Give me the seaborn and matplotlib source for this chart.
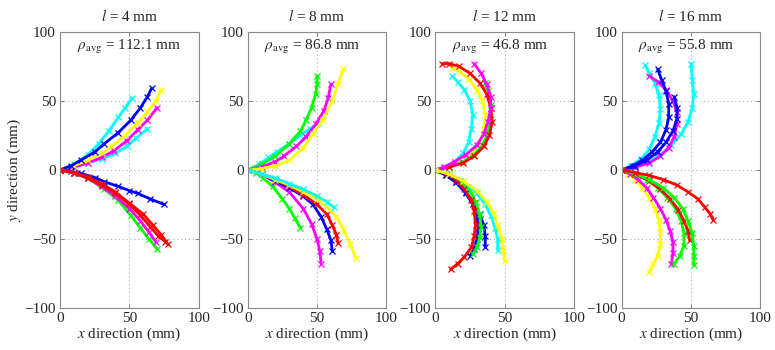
import matplotlib
matplotlib.use("Agg")
import matplotlib.pyplot as plt
import seaborn as sns
import pandas as pd

# Trajectories for each spacing l; each entry is (colour, x points, y points)
SPACINGS = ["4", "8", "12", "16"]
RHO_AVG = ["112.1", "86.8", "46.8", "55.8"]

PANEL_4MM = [
    ("c", [0, 10, 20, 28, 35, 42, 47, 52], [0, 4, 11, 19, 28, 38, 45, 52]),
    ("c", [0, 10, 20, 30, 40, 48, 55, 63], [0, 2, 5, 8, 12, 17, 23, 30]),
    ("m", [0, 10, 20, 30, 39, 48, 56, 63, 70], [0, 2, 5, 9, 14, 21, 29, 36, 45]),
    ("y", [0, 10, 20, 30, 37, 47, 56, 63, 69, 73], [0, 3, 7, 12, 17, 25, 34, 42, 50, 58]),
    ("b", [0, 8, 15, 25, 32, 42, 51, 58, 63, 66], [0, 3, 7, 13, 19, 27, 36, 45, 53, 59]),
    ("b", [0, 8, 15, 25, 32, 42, 50, 56, 65, 75], [0, -1, -2.5, -5.5, -8.5, -12, -15, -17, -21, -25]),
    ("g", [0, 10, 20, 32, 42, 51, 58, 64, 70], [0, -2, -6, -14, -22, -33, -42, -50, -57]),
    ("m", [0, 10, 20, 30, 40, 50, 58, 64, 69], [0, -2, -6, -12, -19, -28, -37, -45, -52]),
    ("r", [0, 10, 20, 30, 40, 50, 58, 65, 71, 76], [0, -2, -6, -11, -17, -25, -33, -41, -48, -52]),
    ("r", [0, 10, 20, 30, 40, 50, 60, 67, 73, 78], [0, -2, -5, -10, -16, -24, -32, -40, -47, -54]),
]

PANEL_8MM = [
    ("c", [0, 8, 15, 21, 30, 38, 45, 51], [0, 4, 9, 13, 19, 25, 30, 34]),
    ("g", [0, 10, 20, 30, 38, 42, 46, 49, 50, 50], [0, 4, 10, 19, 28, 36, 45, 55, 62, 68]),
    ("m", [0, 10, 20, 26, 35, 42, 49, 55, 58, 60], [0, 2, 6, 10, 17, 24, 33, 43, 52, 62]),
    ("y", [0, 10, 20, 30, 40, 47, 54, 61, 65, 69], [0, 1, 3, 7, 16, 26, 36, 50, 62, 73]),
    ("g", [0, 6, 11, 18, 25, 30, 34, 38], [0, -2, -6, -12, -21, -28, -35, -42]),
    ("m", [0, 10, 20, 30, 40, 46, 50, 52, 53], [0, -3, -9, -16, -28, -39, -50, -59, -68]),
    ("b", [0, 10, 20, 30, 40, 47, 53, 57, 60, 61], [0, -3, -8, -13, -19, -25, -34, -43, -51, -59]),
    ("r", [0, 10, 20, 30, 40, 50, 57, 61, 64, 65], [0, -3, -7, -12, -18, -25, -32, -40, -47, -53]),
    ("y", [0, 10, 20, 30, 40, 50, 57, 64, 69, 74, 78], [0, -3, -7, -11, -16, -21, -27, -34, -43, -54, -64]),
    ("c", [0, 10, 20, 30, 40, 50, 57, 62], [0, -3, -6, -10, -14, -19, -23, -27]),
]

PANEL_12MM = [
    ("c", [0, 7, 14, 20, 24, 26, 27, 25, 21, 16, 12], [0, 2, 6, 12, 20, 30, 40, 50, 58, 64, 68]),
    ("y", [0, 10, 20, 27, 32, 35, 36, 34, 30, 24, 18, 12], [0, 2, 6, 12, 20, 30, 40, 50, 58, 66, 71, 74]),
    ("g", [0, 10, 20, 28, 34, 38, 40, 40, 38, 36], [0, 2, 6, 11, 18, 27, 37, 47, 57, 63]),
    ("r", [0, 10, 20, 28, 35, 39, 41, 40, 37, 32, 25, 17, 10, 5], [0, 2, 5, 10, 17, 25, 35, 45, 55, 63, 70, 75, 77, 77]),
    ("m", [0, 6, 14, 22, 30, 35, 38, 40, 40, 37, 33, 28], [0, 2, 6, 11, 18, 26, 35, 45, 53, 62, 70, 77]),
    ("b", [0, 8, 15, 22, 28, 32, 35, 36, 36], [0, -4, -9, -16, -24, -32, -40, -48, -56]),
    ("b", [0, 8, 15, 22, 27, 30, 31, 30, 28, 25], [0, -4, -9, -17, -25, -34, -42, -50, -57, -62]),
    ("g", [0, 10, 18, 25, 29, 32, 33, 32, 30, 27], [0, -3, -8, -15, -23, -32, -41, -49, -56, -61]),
    ("r", [0, 8, 15, 21, 26, 28, 29, 28, 26, 21, 16, 11], [0, -3, -7, -14, -22, -30, -40, -48, -56, -63, -68, -72]),
    ("c", [0, 10, 20, 30, 36, 40, 43, 45, 45], [0, -3, -8, -17, -25, -33, -42, -50, -58]),
    ("y", [0, 10, 20, 30, 37, 42, 45, 48, 49, 50], [0, -3, -8, -15, -23, -31, -40, -50, -58, -66]),
]

PANEL_16MM = [
    ("c", [0, 10, 20, 28, 36, 43, 48, 51, 52, 51, 50], [0, 2, 6, 11, 18, 26, 35, 45, 55, 65, 77]),
    ("c", [0, 7, 14, 20, 24, 27, 28, 27, 24, 20, 17], [0, 3, 8, 15, 24, 34, 44, 54, 63, 70, 76]),
    ("m", [0, 10, 20, 28, 34, 38, 40, 40, 37, 32, 26, 20], [0, 2, 5, 10, 16, 24, 33, 42, 50, 58, 64, 68]),
    ("b", [0, 8, 15, 22, 28, 32, 34, 34, 32, 29, 26], [0, 3, 7, 13, 20, 29, 38, 48, 57, 65, 73]),
    ("b", [0, 10, 18, 26, 32, 37, 40, 40, 38], [0, 3, 7, 13, 20, 28, 37, 45, 53]),
    ("y", [0, 5, 10, 15, 20, 24, 27, 28, 28, 26, 23, 20], [0, -3, -7, -13, -20, -28, -36, -45, -54, -62, -68, -74]),
    ("m", [0, 6, 12, 18, 23, 28, 32, 35, 37, 37, 36], [0, -3, -7, -13, -20, -28, -36, -44, -52, -60, -68]),
    ("g", [0, 10, 18, 26, 33, 39, 43, 45, 45, 42, 38], [0, -3, -7, -13, -20, -28, -37, -46, -55, -62, -68]),
    ("r", [0, 10, 20, 28, 35, 41, 45, 48, 49], [0, -3, -8, -14, -21, -29, -37, -44, -51]),
    ("g", [0, 10, 20, 30, 38, 44, 48, 51, 52, 52, 52], [0, -3, -7, -13, -20, -28, -37, -46, -55, -62, -69]),
    ("r", [0, 10, 20, 30, 40, 48, 55, 60, 64, 66], [0, -2, -4, -7, -11, -16, -21, -27, -32, -36]),
]

PANELS = [PANEL_4MM, PANEL_8MM, PANEL_12MM, PANEL_16MM]
TICKS = [-100, -50, 0, 50, 100]
XTICKS = [0, 50, 100]

COLOURS = {"b": (0, 0, 1), "c": (0, 1, 1), "g": (0, 1, 0),
           "y": (1, 1, 0), "m": (1, 0, 1), "r": (1, 0, 0)}

sns.set_style("ticks")
plt.rcParams["font.family"] = ["Liberation Serif", "DejaVu Serif"]
plt.rcParams["mathtext.fontset"] = "stix"
plt.rcParams["font.size"] = 11

fig = plt.figure(figsize=(7.75, 3.5), dpi=100)
lefts = [0.0774, 0.3196, 0.5617, 0.802]
axes = [fig.add_axes([l, 0.12, 0.179, 0.789]) for l in lefts]

for i, (ax, curves) in enumerate(zip(axes, PANELS)):
    for key, xs, ys in curves:
        col = COLOURS[key]
        df = pd.DataFrame({"x": xs, "y": ys})
        sns.lineplot(data=df, x="x", y="y", sort=False, estimator=None,
                     color=col, linewidth=2.0, marker="x", markersize=4.5,
                     markeredgecolor=col, markeredgewidth=0.9, ax=ax)

    ax.set_xlim(0, 100)
    ax.set_ylim(-100, 100)
    ax.set_xticks(XTICKS)
    ax.set_yticks(TICKS)
    ax.set_xticklabels([str(t) for t in XTICKS])
    ax.set_yticklabels([str(t).replace("-", "\u2212") for t in TICKS])
    ax.grid(True, linestyle=(0, (1, 2.5)), color="#b0b0b0", linewidth=0.8)
    ax.tick_params(direction="in", length=3, width=0.6, color="#707070",
                   top=True, right=True, labelsize=11, pad=3)
    for sp in ax.spines.values():
        sp.set_color("#8a8a8a")
        sp.set_linewidth(0.8)
        sp.set_visible(True)

    ax.set_title(rf"$l$ = {SPACINGS[i]} mm", fontsize=11, pad=8)
    ax.text(12, 89, rf"$\rho_{{\mathrm{{avg}}}}$ = {RHO_AVG[i]} mm",
            ha="left", va="center", fontsize=11)
    ax.set_xlabel(r"$x$ direction (mm)", fontsize=11, labelpad=0)
    if i == 0:
        ax.set_ylabel(r"$y$ direction (mm)", fontsize=11, labelpad=1)
    else:
        ax.set_ylabel("")

fig.savefig("out.png", dpi=100, facecolor="white")
